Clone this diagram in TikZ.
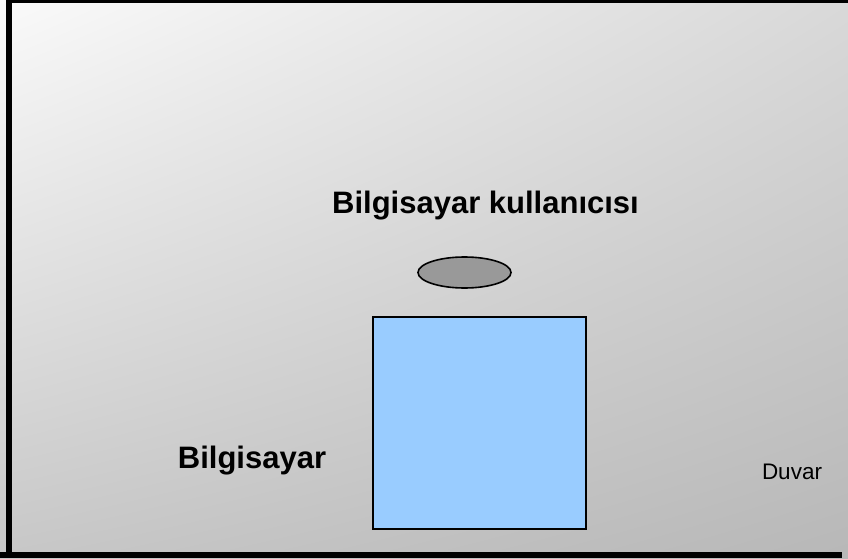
\documentclass[tikz,border=0pt]{standalone}
\usepackage{fontspec}
\setmainfont{Liberation Sans}
\usetikzlibrary{positioning, shapes.geometric, shadings}
\definecolor{boxblue}{HTML}{99CCFF}
\definecolor{usergray}{HTML}{999999}
\begin{document}
\begin{tikzpicture}[
					x=1pt, y=1pt,
					wall/.style={fill=black, draw=none},
					computer/.style={draw=black, line width=2pt, fill=boxblue, minimum width=213pt, minimum height=212pt, inner sep=0pt},
					user/.style={ellipse, draw=black, line width=1.6pt, fill=usergray, minimum width=93pt, minimum height=31pt, inner sep=0pt},
					biglabel/.style={anchor=base, inner sep=0pt, font=\bfseries\fontsize{31}{37}\selectfont},
					smalllabel/.style={anchor=base, inner sep=0pt, font=\fontsize{22.5}{27}\selectfont}
					]
					\useasboundingbox (0,0) rectangle (848,558);
					% room floor
					\shade[upper left=black!2, upper right=black!15, lower left=black!22, lower right=black!28]
					(0,0) rectangle (848,558);
					% walls
					\fill[wall] (6,0) rectangle (12,558);
					\fill[wall] (6,554.7) rectangle (848,558);
					\fill[wall] (0,0) rectangle (842,6);
					\node[computer] (pc) at (479.5,135.5) {};
					\node[user] (person) at (464.5,285.5) {};
					\node[biglabel] (personlabel) at (485.5,345) {Bilgisayar kullanıcısı};
					\node[biglabel] (pclabel) at (252,90) {Bilgisayar};
					\node[smalllabel] (walllabel) at (792,79) {Duvar};
				\end{tikzpicture}
\end{document}
